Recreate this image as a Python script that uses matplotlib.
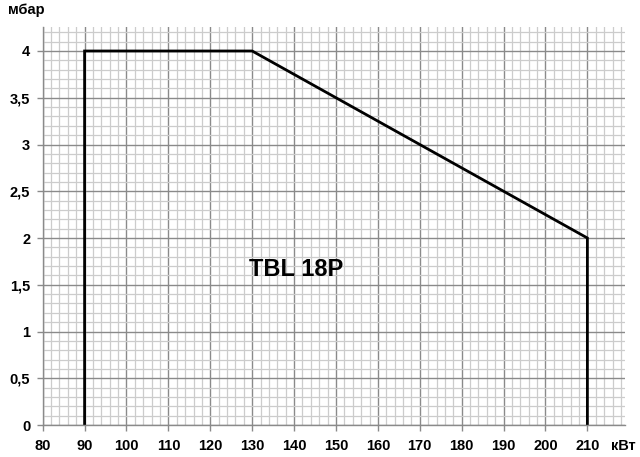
import numpy as np
import matplotlib
matplotlib.use('Agg')
import matplotlib.pyplot as plt

plt.rcParams['font.family'] = ['Liberation Sans', 'DejaVu Sans']

# working field of the burner: power (kW) vs pressure (mbar)
power = [90, 90, 130, 210, 210]
pressure = [0, 4, 4, 2, 0]

x_ticks = [80, 90, 100, 110, 120, 130, 140, 150, 160, 170, 180, 190, 200, 210]
y_ticks = [0, 0.5, 1, 1.5, 2, 2.5, 3, 3.5, 4]
y_labels = ['0', '0,5', '1', '1,5', '2', '2,5', '3', '3,5', '4']

fig = plt.figure(figsize=(6.4, 4.57), dpi=100)
ax = fig.add_axes([0.0667, 0.070, 0.91, 0.8716])

ax.set_xlim(80, 219)
ax.set_ylim(0, 4.26)

# graph paper grid
ax.set_xticks(np.arange(80, 220, 2), minor=True)
ax.set_yticks(np.arange(0, 4.3, 0.1), minor=True)
ax.grid(which='minor', color='#cccccc', linewidth=0.9)
ax.grid(which='major', color='#8a8a8a', linewidth=1.0)
ax.set_axisbelow(True)

ax.set_xticks(x_ticks)
ax.set_yticks(y_ticks)
ax.set_yticklabels(y_labels)
ax.tick_params(which='major', length=4, color='#8a8a8a', width=1.0,
               labelsize=10.5, pad=6)
ax.tick_params(axis='y', pad=5)
ax.tick_params(which='minor', length=0)
for lab in ax.get_xticklabels() + ax.get_yticklabels():
    lab.set_fontweight('bold')

for s in ['top', 'right']:
    ax.spines[s].set_visible(False)
for s in ['left', 'bottom']:
    ax.spines[s].set_color('#8a8a8a')
    ax.spines[s].set_linewidth(1.0)

ax.plot(power, pressure, color='black', linewidth=2.0, solid_joinstyle='miter')

ax.text(140.4, 1.66, 'TBL 18P', fontsize=17, fontweight='bold',
        ha='center', va='center')

fig.text(0.012, 0.978, 'мбар', fontsize=10.5, fontweight='bold', ha='left', va='center')
fig.text(0.993, 0.024, 'кВт', fontsize=10.5, fontweight='bold', ha='right', va='center')

fig.savefig('out.png', dpi=100, facecolor='white')
